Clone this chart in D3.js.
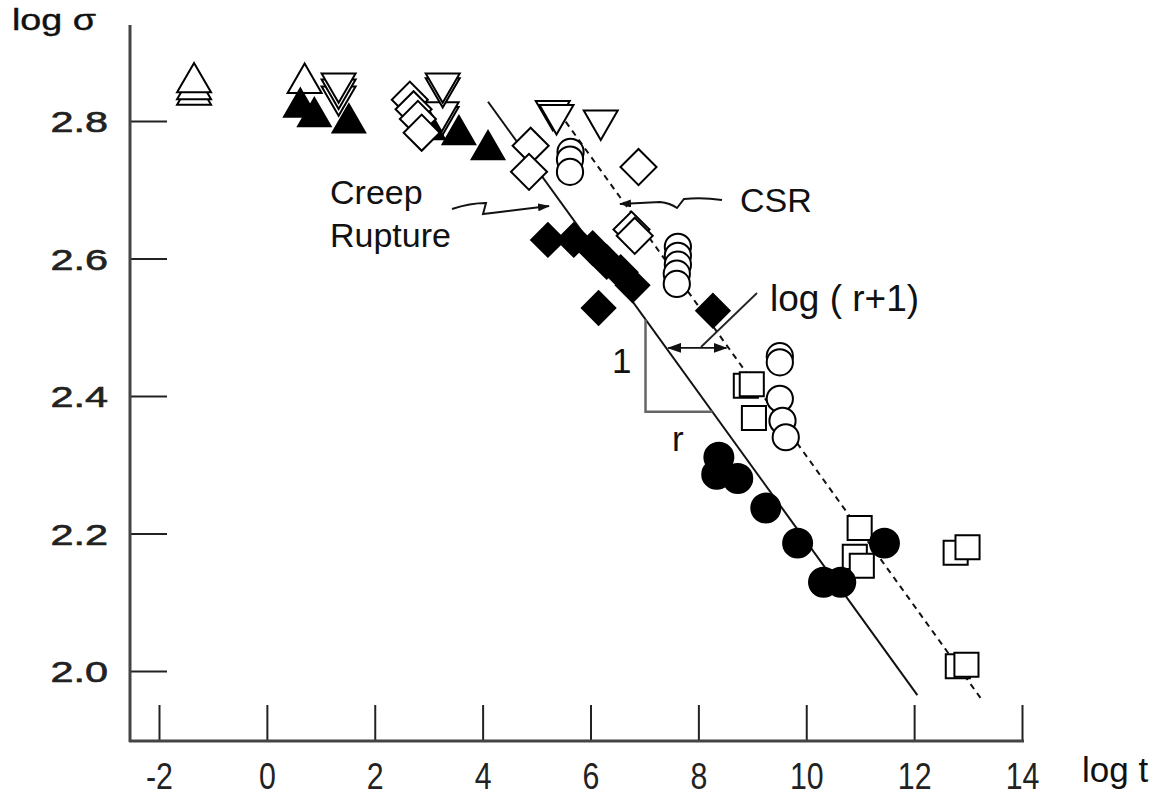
<!DOCTYPE html>
<html><head><meta charset="utf-8">
<script src="https://cdn.jsdelivr.net/npm/d3@7"></script>
<style>body{margin:0;background:#fff}svg{display:block}</style>
</head><body><svg id="c" width="1153" height="797"></svg>
<script>
// ---- data (log t, log sigma) ----
const xTicks = [-2, 0, 2, 4, 6, 8, 10, 12, 14];
const yTicks = [2.0, 2.2, 2.4, 2.6, 2.8];
const xLabel = "log t";
const yLabel = "log σ";

const openUpTri = [[-1.35, 2.838], [-1.35, 2.846], [-1.35, 2.856], [0.70, 2.855]];
const openDownTri = [[1.33, 2.836], [1.33, 2.846], [1.33, 2.855],
  [3.24, 2.806], [3.24, 2.813], [3.26, 2.848], [3.26, 2.855],
  [5.30, 2.815], [5.37, 2.809], [6.19, 2.801]];
const filledUpTri = [[0.62, 2.820], [0.88, 2.806], [1.52, 2.797],
  [3.00, 2.787], [3.56, 2.780], [4.10, 2.758]];
const openDiamond = [[2.65, 2.831], [2.72, 2.817], [2.80, 2.803], [2.87, 2.783],
  [4.89, 2.764], [4.86, 2.726], [6.89, 2.733], [6.76, 2.642], [6.82, 2.633]];
const filledDiamond = [[5.21, 2.627], [5.69, 2.627], [6.04, 2.615], [6.30, 2.595],
  [6.56, 2.580], [6.78, 2.561], [6.15, 2.528], [8.27, 2.524]];
const openCircle = [[5.63, 2.755], [5.62, 2.744], [5.62, 2.726],
  [7.62, 2.617], [7.62, 2.604], [7.62, 2.591], [7.60, 2.578], [7.60, 2.563],
  [9.51, 2.458], [9.51, 2.449], [9.51, 2.396], [9.56, 2.364], [9.62, 2.340]];
const filledCircle = [[8.38, 2.311], [8.34, 2.286], [8.73, 2.280], [9.25, 2.237],
  [9.84, 2.186], [10.32, 2.129], [10.64, 2.129], [11.45, 2.186]];
const openSquare = [[8.88, 2.415], [8.99, 2.417], [9.03, 2.368],
  [10.99, 2.208], [10.90, 2.166], [11.03, 2.153],
  [12.77, 2.172], [12.99, 2.180], [12.81, 2.007], [12.97, 2.009]];

const ruptureLine = [[4.10, 2.828], [12.06, 1.965]];
const csrLine = [[5.54, 2.799], [13.23, 1.961]];

// ---- setup ----
const svg = d3.select("#c");
const x = d3.scaleLinear().domain([-2, 14]).range([159, 1022]);
const y = d3.scaleLinear().domain([2.0, 2.8]).range([671, 121]);
const FONT = "'Liberation Sans', Arial, Helvetica, sans-serif";

svg.append("rect").attr("width", 1153).attr("height", 797).attr("fill", "#fff");

const defs = svg.append("defs");
defs.append("marker").attr("id", "arr").attr("viewBox", "0 0 12 8")
  .attr("refX", 11).attr("refY", 4).attr("markerWidth", 12).attr("markerHeight", 8)
  .attr("markerUnits", "userSpaceOnUse").attr("orient", "auto-start-reverse")
  .append("path").attr("d", "M0,0L12,4L0,8Z").attr("fill", "#111");
defs.append("marker").attr("id", "arr2").attr("viewBox", "0 0 14 10")
  .attr("refX", 13).attr("refY", 5).attr("markerWidth", 14).attr("markerHeight", 10)
  .attr("markerUnits", "userSpaceOnUse").attr("orient", "auto-start-reverse")
  .append("path").attr("d", "M0,0L14,5L0,10Z").attr("fill", "#111");

// ---- axes ----
const xAxis = d3.axisBottom(x).tickValues(xTicks).tickFormat(d => String(d))
  .tickSizeInner(-36).tickSizeOuter(0).tickPadding(18);
const gx = svg.append("g").attr("transform", "translate(0,741)").call(xAxis);
gx.select(".domain").remove();
gx.selectAll(".tick line").attr("stroke", "#222").attr("stroke-width", 2);
gx.selectAll(".tick text").attr("font-family", FONT).attr("font-size", 37).attr("fill", "#222")
  .attr("y", 0).attr("dy", 0)
  .attr("transform", "translate(0,48) scale(0.82,1)");

const yAxis = d3.axisLeft(y).tickValues(yTicks).tickFormat(d3.format(".1f"))
  .tickSizeInner(-37).tickSizeOuter(0).tickPadding(22);
const gy = svg.append("g").attr("transform", "translate(130,0)").call(yAxis);
gy.select(".domain").remove();
gy.selectAll(".tick line").attr("stroke", "#222").attr("stroke-width", 2);
gy.selectAll(".tick text").attr("font-family", FONT).attr("font-size", 30).attr("fill", "#222")
  .attr("stroke", "#222").attr("stroke-width", 0.6)
  .attr("x", 0).attr("dy", "0.36em")
  .attr("transform", "translate(-22,0) scale(1.38,1)");

svg.append("line").attr("x1", 130).attr("x2", 130).attr("y1", 25).attr("y2", 742)
  .attr("stroke", "#444").attr("stroke-width", 3);
svg.append("line").attr("x1", 129).attr("x2", x(14) + 2).attr("y1", 741).attr("y2", 741)
  .attr("stroke", "#444").attr("stroke-width", 3);

svg.append("text").text(yLabel).attr("font-family", FONT).attr("font-size", 29)
  .attr("fill", "#111").attr("stroke", "#111").attr("stroke-width", 0.4)
  .attr("transform", "translate(12,30) scale(1.3,1)");
svg.append("text").text(xLabel).attr("font-family", FONT).attr("font-size", 35)
  .attr("fill", "#111").attr("x", 1082).attr("y", 782);

// ---- fit lines ----
const lineGen = d3.line().x(d => x(d[0])).y(d => y(d[1]));
svg.append("path").attr("d", lineGen(ruptureLine)).attr("stroke", "#111")
  .attr("stroke-width", 2).attr("fill", "none");
svg.append("path").attr("d", lineGen(csrLine)).attr("stroke", "#111")
  .attr("stroke-width", 2).attr("fill", "none").attr("stroke-dasharray", "6,5");

// ---- slope triangle ----
const rSlope = (ruptureLine[1][1] - ruptureLine[0][1]) / (ruptureLine[1][0] - ruptureLine[0][0]);
const cSlope = (csrLine[1][1] - csrLine[0][1]) / (csrLine[1][0] - csrLine[0][0]);
const tOnRupture = s => ruptureLine[0][0] + (s - ruptureLine[0][1]) / rSlope;
const sOnRupture = t => ruptureLine[0][1] + (t - ruptureLine[0][0]) * rSlope;
const tOnCsr = s => csrLine[0][0] + (s - csrLine[0][1]) / cSlope;
const triT = 7.02, triS = 2.377;
svg.append("path")
  .attr("d", `M${x(triT)},${y(sOnRupture(triT))}L${x(triT)},${y(triS)}L${x(tOnRupture(triS))},${y(triS)}`)
  .attr("stroke", "#666").attr("stroke-width", 2.5).attr("fill", "none");
svg.append("text").text("1").attr("font-family", FONT).attr("font-size", 35)
  .attr("fill", "#111").attr("x", 612).attr("y", 373);
svg.append("text").text("r").attr("font-family", FONT).attr("font-size", 35)
  .attr("fill", "#111").attr("x", 672).attr("y", 451);

// ---- log(r+1) arrow ----
const arrS = 2.470;
svg.append("line").attr("x1", x(tOnRupture(arrS)) + 2).attr("x2", x(tOnCsr(arrS)) - 2)
  .attr("y1", y(arrS)).attr("y2", y(arrS)).attr("stroke", "#111").attr("stroke-width", 1.8)
  .attr("marker-start", "url(#arr2)").attr("marker-end", "url(#arr2)");
svg.append("line").attr("x1", 757).attr("y1", 293).attr("x2", 701).attr("y2", 347)
  .attr("stroke", "#222").attr("stroke-width", 1.8);
svg.append("text").text("log ( r+1)").attr("font-family", FONT).attr("font-size", 37)
  .attr("fill", "#111").attr("x", 770).attr("y", 311);

// ---- labels with squiggle arrows ----
svg.append("text").attr("font-family", FONT).attr("font-size", 34).attr("fill", "#111")
  .selectAll("tspan").data(["Creep", "Rupture"]).join("tspan")
  .attr("x", 330).attr("y", (d, i) => 204 + i * 43).text(d => d);
svg.append("text").text("CSR").attr("font-family", FONT).attr("font-size", 34)
  .attr("fill", "#111").attr("x", 740).attr("y", 212);
svg.append("path").attr("d", "M452,209 Q470,203 486,203 L483,214 Q492,213 500,212 L549,206")
  .attr("stroke", "#111").attr("stroke-width", 2).attr("fill", "none").attr("marker-end", "url(#arr)");
svg.append("path").attr("d", "M722,200 Q702,197 684,199 L677,208 Q670,203 660,202 L620,204")
  .attr("stroke", "#111").attr("stroke-width", 2).attr("fill", "none").attr("marker-end", "url(#arr)");

// ---- markers ----
function plot(data, type, size, filled, rot) {
  const sym = d3.symbol().type(type).size(size);
  svg.append("g").selectAll("path").data(data).join("path")
    .attr("d", sym)
    .attr("transform", d => `translate(${x(d[0])},${y(d[1])}) rotate(${rot})`)
    .attr("fill", filled ? "#000" : "#fff")
    .attr("stroke", "#000").attr("stroke-width", 2);
}
plot(openDownTri, d3.symbolTriangle, 500, false, 180);
plot(openUpTri, d3.symbolTriangle, 500, false, 0);
plot(filledUpTri, d3.symbolTriangle, 460, true, 0);
plot(openDiamond, d3.symbolSquare, 650, false, 45);
plot(openCircle, d3.symbolCircle, 540, false, 0);
plot(openSquare, d3.symbolSquare, 580, false, 0);
plot(filledDiamond, d3.symbolSquare, 560, true, 45);
plot(filledCircle, d3.symbolCircle, 660, true, 0);
</script></body></html>
